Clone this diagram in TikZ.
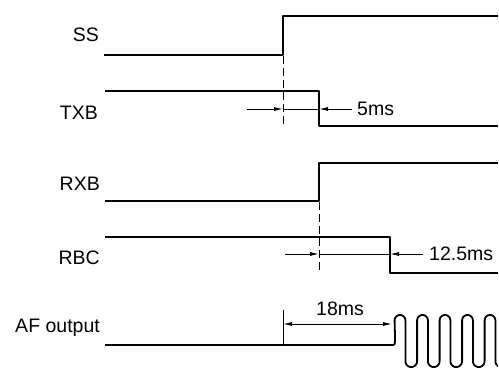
\documentclass[tikz,border=0pt]{standalone}
\usepackage{fontspec}
\setmainfont{Liberation Sans}
\usetikzlibrary{arrows.meta}
\begin{document}
\begin{tikzpicture}[x=1pt,y=-1pt,
  sig/.style={line width=1.8pt,line join=round},
  dim/.style={line width=0.9pt},
  arr/.style={dim,-{Latex[length=9pt,width=4pt]}},
  darr/.style={dim,{Latex[length=9pt,width=4pt]}-{Latex[length=9pt,width=4pt]}},
  dsh/.style={line width=0.9pt,dash pattern=on 8pt off 4pt},
  lab/.style={font=\fontsize{19.5}{19.5}\selectfont,inner sep=0pt},
  rlab/.style={lab,anchor=base east}]
\useasboundingbox (0,0) rectangle (499,369);
% labels
\node[rlab] (lss) at (99,42) {SS};
\node[rlab] (ltxb) at (98,120) {TXB};
\node[rlab] (lrxb) at (100,191) {RXB};
\node[rlab] (lrbc) at (100,265) {RBC};
\node[rlab] (laf) at (100,332) {AF output};
% SS
\coordinate (ss0) at (104,55);
\coordinate (ss1) at (283,55);
\coordinate (ss2) at (283,16);
\coordinate (ss3) at (498,16);
\draw[sig] (ss0) -- (ss1) -- (ss2) -- (ss3);
% TXB
\coordinate (tx0) at (105,91);
\coordinate (tx1) at (319,91);
\coordinate (tx2) at (319,126);
\coordinate (tx3) at (498,126);
\draw[sig] (tx0) -- (tx1) -- (tx2) -- (tx3);
% dashed 1
\coordinate (d1a) at (283,56);
\coordinate (d1b) at (283,127);
\draw[dsh] (d1a) -- (d1b);
% 5ms
\coordinate (a1s) at (247,109);
\coordinate (a1m) at (283,109);
\coordinate (a1n) at (319,109);
\coordinate (a1e) at (352,109);
\draw[arr] (a1s) -- (a1m);
\draw[dim] (a1m) -- (a1n);
\draw[arr] (a1e) -- (a1n);
\node[lab,anchor=base west] (l5) at (357,116) {5ms};
% RXB
\coordinate (rx0) at (105,201);
\coordinate (rx1) at (319,201);
\coordinate (rx2) at (319,163);
\coordinate (rx3) at (498,163);
\draw[sig] (rx0) -- (rx1) -- (rx2) -- (rx3);
% dashed 2
\coordinate (d2a) at (319,202);
\coordinate (d2b) at (319,272);
\draw[dsh] (d2a) -- (d2b);
% RBC
\coordinate (rb0) at (105,237);
\coordinate (rb1) at (390,237);
\coordinate (rb2) at (390,273);
\coordinate (rb3) at (498,273);
\draw[sig] (rb0) -- (rb1) -- (rb2) -- (rb3);
% 12.5ms
\coordinate (a2s) at (285,254);
\coordinate (a2m) at (319,254);
\coordinate (a2n) at (390,254);
\coordinate (a2e) at (423,254);
\draw[arr] (a2s) -- (a2m);
\draw[dim] (a2m) -- (a2n);
\draw[arr] (a2e) -- (a2n);
\node[lab,anchor=base west] (l125) at (429,261) {12.5ms};
% AF output
\coordinate (af0) at (105,345);
\coordinate (af1) at (392,345);
\draw[sig] (af0) -- (af1);
\begin{scope}
\clip (380,300) rectangle (498,369);
\draw[sig] (af1) .. controls (395,345) .. (395,336)
  \foreach \i in {0,...,4} {
    -- plot[domain=180:0,samples=15,variable=\a] ({400+22.5*\i+5.4*cos(\a)},{320.4-5.4*sin(\a)})
    -- plot[domain=180:360,samples=15,variable=\a] ({411.25+22.5*\i+5.85*cos(\a)},{361.2-5.85*sin(\a)})
  };
\end{scope}
% 18ms
\coordinate (t0) at (283,310);
\coordinate (t1) at (283,345);
\draw[dim] (t0) -- (t1);
\coordinate (a3s) at (283,324);
\coordinate (a3e) at (392,324);
\draw[darr] (a3s) -- (a3e);
\node[lab,anchor=base] (l18) at (340,315) {18ms};
\end{tikzpicture}
\end{document}
